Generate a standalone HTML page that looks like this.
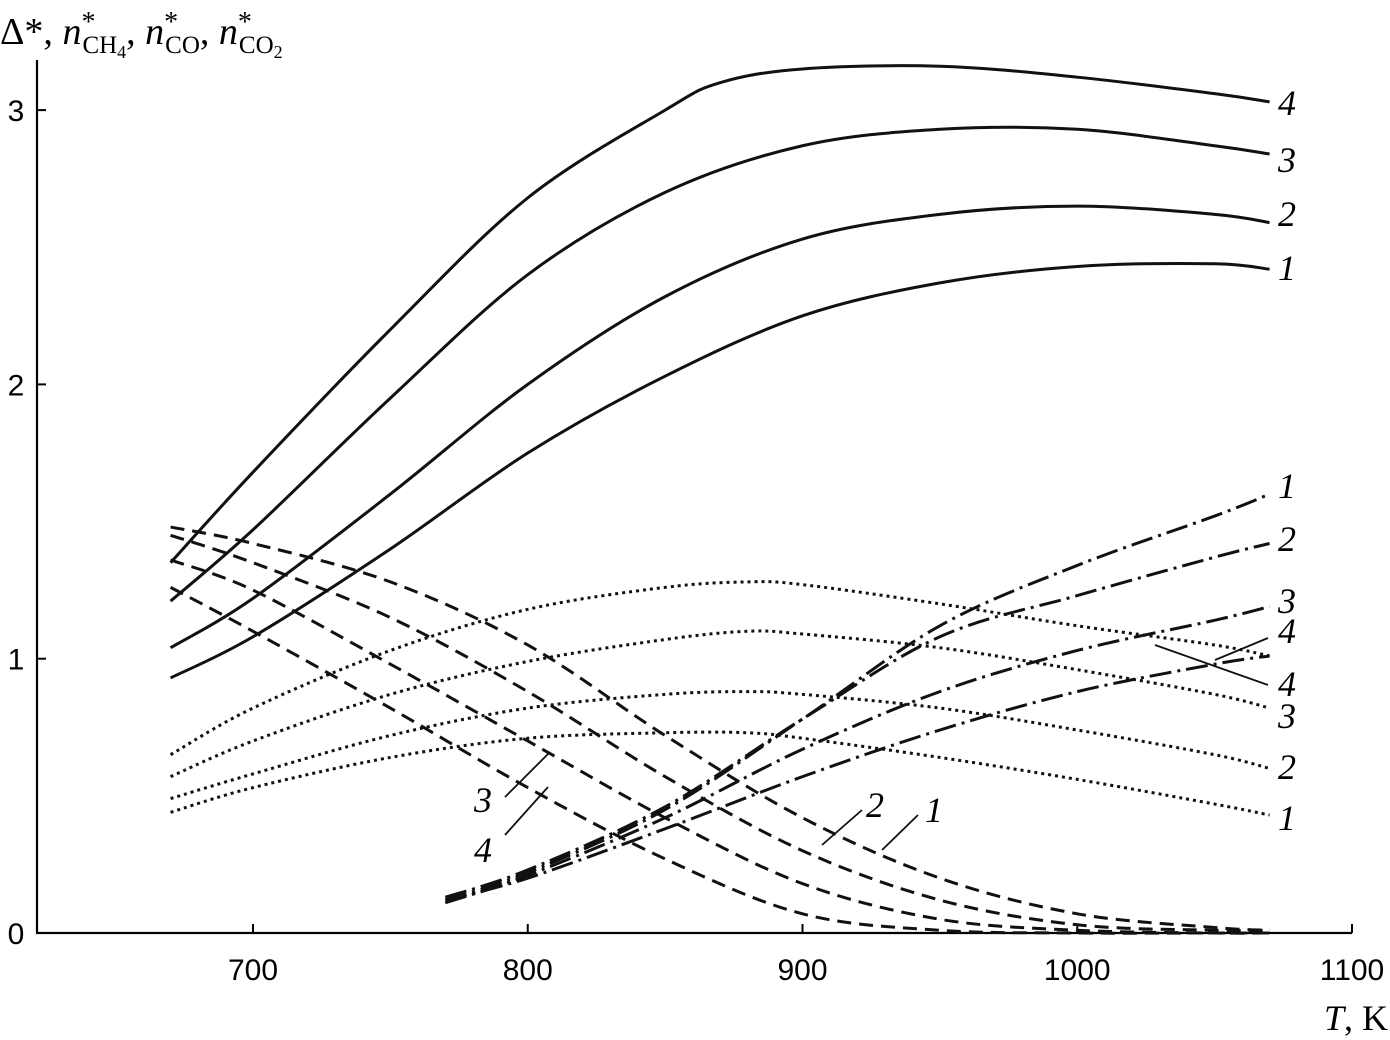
<!DOCTYPE html>
<html><head><meta charset="utf-8"><style>
body{margin:0;background:#fff}
svg{display:block;font-family:"Liberation Serif",serif}
</style></head><body>
<svg id="c" width="1390" height="1040" viewBox="0 0 1390 1040">
<g id="axes"></g>
<g id="plot"></g>
<g id="labels"></g>
<text x="0" y="44" font-size="38">Δ*, <tspan font-style="italic">n</tspan><tspan font-size="28" dy="-13">*</tspan><tspan font-size="25" dx="-13" dy="22">CH</tspan><tspan font-size="18" dy="5">4</tspan><tspan dy="-14">, </tspan><tspan font-style="italic">n</tspan><tspan font-size="28" dy="-13">*</tspan><tspan font-size="25" dx="-13" dy="22">CO</tspan><tspan dy="-9">, </tspan><tspan font-style="italic">n</tspan><tspan font-size="28" dy="-13">*</tspan><tspan font-size="25" dx="-13" dy="22">CO</tspan><tspan font-size="18" dy="5">2</tspan></text>
<text x="1388" y="1030" font-size="36" text-anchor="end"><tspan font-style="italic">T</tspan>, K</text>
</svg>
<script>
const xTicks=[700,800,900,1000,1100];
const yTicks=[0,1,2,3];
const Tsolid4=[670,700,750,800,850,870,900,950,1000,1050,1070];
const solid4=[1.35,1.68,2.2,2.68,3.0,3.1,3.15,3.16,3.12,3.06,3.03];
const Tsolid=[670,700,750,800,850,900,950,1000,1050,1070];
const solid3=[1.21,1.47,1.95,2.4,2.7,2.87,2.93,2.93,2.87,2.84];
const solid2=[1.04,1.22,1.6,2.0,2.32,2.53,2.62,2.65,2.62,2.59];
const solid1=[0.93,1.08,1.4,1.75,2.03,2.25,2.37,2.43,2.44,2.42];
const Tdot=[670,700,750,800,850,880,900,950,1000,1050,1070];
const dot4=[0.65,0.82,1.03,1.18,1.26,1.28,1.27,1.2,1.12,1.05,1.01];
const dot3=[0.57,0.7,0.87,0.99,1.07,1.1,1.09,1.04,0.96,0.87,0.82];
const dot2=[0.49,0.58,0.72,0.82,0.87,0.88,0.87,0.82,0.74,0.65,0.6];
const dot1=[0.44,0.53,0.64,0.71,0.73,0.73,0.71,0.64,0.56,0.47,0.43];
const Tdash=[670,700,750,800,850,900,950,1000,1050,1070];
const dash1=[1.48,1.42,1.28,1.05,0.72,0.42,0.2,0.07,0.02,0.01];
const dash2=[1.45,1.35,1.15,0.88,0.57,0.3,0.12,0.03,0.01,0.01];
const dash3=[1.36,1.25,0.98,0.7,0.42,0.18,0.05,0.01,0,0];
const dash4=[1.26,1.1,0.82,0.53,0.27,0.07,0.01,0,0,0];
const Tdd=[770,800,850,900,950,1000,1050,1070];
const dd1=[0.12,0.22,0.45,0.78,1.12,1.34,1.52,1.6];
const dd2=[0.13,0.23,0.46,0.78,1.08,1.23,1.37,1.42];
const dd3=[0.11,0.21,0.42,0.67,0.88,1.03,1.14,1.19];
const dd4=[0.12,0.2,0.38,0.57,0.74,0.88,0.98,1.01];

const X=t=>253+(t-700)*2.7475;
const Y=v=>933-v*274.3;
const NS='http://www.w3.org/2000/svg';
function mk(tag,attrs,parent){const e=document.createElementNS(NS,tag);for(const k in attrs)e.setAttribute(k,attrs[k]);parent.appendChild(e);return e;}
const axes=document.getElementById('axes'),plot=document.getElementById('plot'),labs=document.getElementById('labels');
let a=mk('path',{d:'M37,60 V933 H1352',fill:'none',stroke:'#000','stroke-width':2.2},axes);


xTicks.forEach(t=>{
 let l=mk('line',{x1:X(t),x2:X(t),y1:933,y2:924,stroke:'#000','stroke-width':2},axes);
 
 
 let tx=mk('text',{x:X(t),y:980,'font-size':30,'text-anchor':'middle','font-family':'Liberation Sans, sans-serif'},axes);
 tx.textContent=t;
 
 
});
yTicks.forEach(v=>{
 let l=mk('line',{x1:37,x2:46,y1:Y(v),y2:Y(v),stroke:'#000','stroke-width':2},axes);
 
 
 let tx=mk('text',{x:16,y:Y(v)+11,'font-size':30,'text-anchor':'middle','font-family':'Liberation Sans, sans-serif'},axes);
 tx.textContent=v;
 
 
});
function path(ts,vs){
 const p=ts.map((t,i)=>[X(t),Y(vs[i])]);
 let d='M'+p[0][0]+','+p[0][1];
 for(let i=0;i<p.length-1;i++){
  const p0=p[i-1]||p[i],p1=p[i],p2=p[i+1],p3=p[i+2]||p2;
  d+=` C${p1[0]+(p2[0]-p0[0])/6},${p1[1]+(p2[1]-p0[1])/6} ${p2[0]-(p3[0]-p1[0])/6},${p2[1]-(p3[1]-p1[1])/6} ${p2[0]},${p2[1]}`;
 }
 return d;
}
const curves=[
 ['solid-curve-1',Tsolid,solid1,null],['solid-curve-2',Tsolid,solid2,null],['solid-curve-3',Tsolid,solid3,null],['solid-curve-4',Tsolid4,solid4,null],
 ['dotted-curve-1',Tdot,dot1,'3 4'],['dotted-curve-2',Tdot,dot2,'3 4'],['dotted-curve-3',Tdot,dot3,'3 4'],['dotted-curve-4',Tdot,dot4,'3 4'],
 ['dashed-curve-1',Tdash,dash1,'14 8'],['dashed-curve-2',Tdash,dash2,'14 8'],['dashed-curve-3',Tdash,dash3,'14 8'],['dashed-curve-4',Tdash,dash4,'14 8'],
 ['dash-dot-curve-1',Tdd,dd1,'22 6 3 6'],['dash-dot-curve-2',Tdd,dd2,'22 6 3 6'],['dash-dot-curve-3',Tdd,dd3,'22 6 3 6'],['dash-dot-curve-4',Tdd,dd4,'22 6 3 6']
];
curves.forEach(([nm,ts,vs,da])=>{
  const e=mk('path',{d:path(ts,vs),fill:'none',stroke:'#111','stroke-width':3},plot);
  if(da)e.setAttribute('stroke-dasharray',da);
  
  
});
function lab(x,y,s){const t=mk('text',{x:x,y:y,'font-size':36,'font-style':'italic'},labs);t.textContent=s;
 
 }
function ld(x1,y1,x2,y2){const l=mk('line',{x1,y1,x2,y2,stroke:'#111','stroke-width':1.8},labs);
 
 }
[['4',115],['3',172],['2',226],['1',280],['1',498],['2',551],['3',613],['4',643],['4',696],['3',728],['2',779],['1',830]].forEach(([s,y])=>lab(1278,y,s));
ld(1155,645,1268,685);ld(1215,660,1268,638);
lab(474,812,'3');lab(474,862,'4');ld(505,797,550,752);ld(505,835,548,787);
lab(866,817,'2');lab(925,822,'1');ld(822,845,862,810);ld(882,850,918,815);
</script>
</body></html>
